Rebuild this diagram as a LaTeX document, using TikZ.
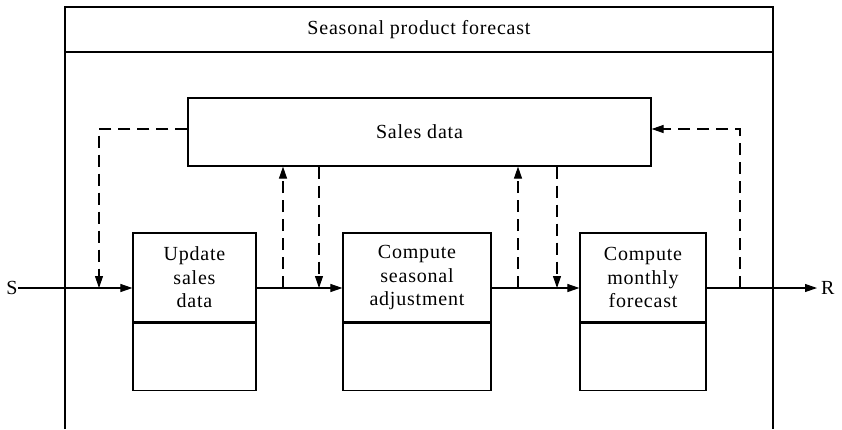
\documentclass[tikz,border=0pt]{standalone}
\usepackage{fontspec}
\setmainfont{Liberation Serif}[LetterSpace=4]
\usetikzlibrary{arrows.meta}
\tikzset{
  labelfont/.style={font=\fontsize{20}{23.5}\selectfont},
  frameline/.style={line width=1.3pt},
  procbox/.style={draw, line width=1.2pt, minimum width=123pt, minimum height=89pt,
    inner sep=0pt, align=center, labelfont},
  memobox/.style={draw, line width=1.2pt, minimum width=123pt, minimum height=67pt, inner sep=0pt},
  tip/.style={-{Triangle[length=12pt,width=8pt]}},
  flow/.style={line width=1.1pt, tip},
  dataflow/.style={line width=1.1pt, dash pattern=on 12pt off 7pt},
  txt/.style={labelfont, inner sep=0pt}
}
\begin{document}
\begin{tikzpicture}[x=1pt,y=-1pt]
\useasboundingbox (0,0) rectangle (842,429);

% enclosing frame with title band (open at the bottom)
\draw[frameline] (65,429) -- (65,7) -- (773,7) -- (773,429);
\draw[frameline] (65,52) -- (773,52);
\node[txt] (title) at (419,30) {Seasonal product forecast};

% shared data store
\node[draw, line width=1.2pt, minimum width=463pt, minimum height=68pt, inner sep=0pt,
      labelfont] (sales) at (419.5,132) {Sales data};

% processing steps
\node[procbox] (upd) at (194.5,277.5) {Update\\sales\\data};
\node[memobox, anchor=north] (updm) at (upd.south) {};
\node[procbox, minimum width=148pt] (adj) at (417,277.5) {Compute\\seasonal\\adjustment};
\node[memobox, minimum width=148pt, anchor=north] (adjm) at (adj.south) {};
\node[procbox, minimum width=126pt] (mon) at (643,277.5) {Compute\\monthly\\forecast};
\node[memobox, minimum width=126pt, anchor=north] (monm) at (mon.south) {};

% input and output
\node[txt] (S) at (12,288) {S};
\node[txt, anchor=west] (R) at (821,288) {R};
\coordinate (rend) at (817,288);

% main flow
\draw[flow] (S.east) -- (S -| upd.west);
\draw[flow] (upd.east |- S) -- (adj.west |- S);
\draw[flow] (adj.east |- S) -- (mon.west |- S);
\draw[flow] (mon.east |- S) -- (rend);

% junctions on the main flow
\coordinate (ja) at (99,129);
\coordinate (jb) at (283,288);
\coordinate (jc) at (319,288);
\coordinate (jd) at (518,288);
\coordinate (je) at (557,288);
\coordinate (jf) at (740,129);

% data store reads and writes
\draw[dataflow, tip] (ja -| sales.west) -- (ja) -- (ja |- S);
\draw[dataflow, tip] (jb) -- (jb |- sales.south);
\draw[dataflow, tip] (jc |- sales.south) -- (jc);
\draw[dataflow, tip] (jd) -- (jd |- sales.south);
\draw[dataflow, tip] (je |- sales.south) -- (je);
\draw[dataflow, tip] (jf |- S) -- (jf) -- (jf -| sales.east);
\end{tikzpicture}
\end{document}
